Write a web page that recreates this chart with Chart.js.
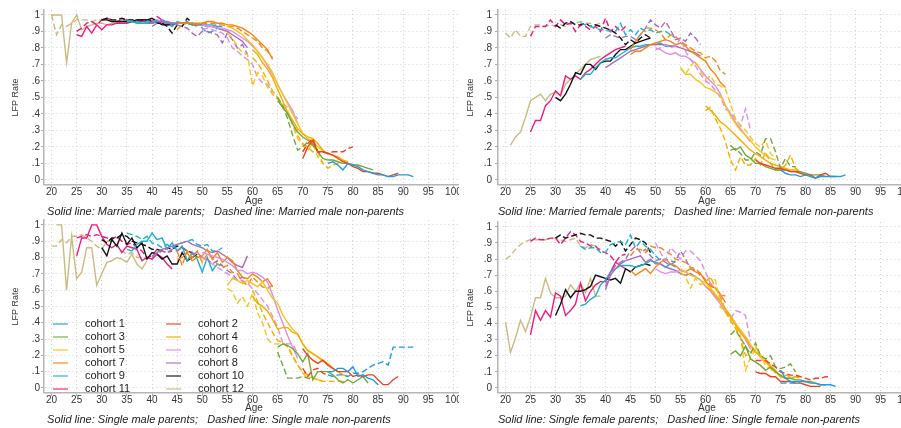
<!DOCTYPE html>
<html>
<head>
<meta charset="utf-8">
<script src="https://cdn.jsdelivr.net/npm/chart.js@4.4.1/dist/chart.umd.min.js"></script>
<style>
  html, body { margin: 0; padding: 0; background: #fff; width: 901px; height: 428px; overflow: hidden; }
  .panel { position: absolute; overflow: hidden; }
  .panel canvas { position: absolute; left: 0; top: 0; }
</style>
</head>
<body>
<div class="panel" style="left:0;top:0;width:459px;height:219px"><canvas id="mm" width="464" height="219"></canvas></div>
<div class="panel" style="left:452px;top:0;width:449px;height:219px"><canvas id="mf" width="464" height="219"></canvas></div>
<div class="panel" style="left:0;top:213px;width:459px;height:215px"><canvas id="sm" width="464" height="214"></canvas></div>
<div class="panel" style="left:452px;top:213px;width:449px;height:215px"><canvas id="sf" width="464" height="214"></canvas></div>
<script>
// LFP rate by age, 12 birth cohorts; solid = parents, dashed = non-parents.

const COHORTS = ['cohort 1', 'cohort 2', 'cohort 3', 'cohort 4', 'cohort 5', 'cohort 6',
                 'cohort 7', 'cohort 8', 'cohort 9', 'cohort 10', 'cohort 11', 'cohort 12'];
const COLORS = ['#1f9be0', '#f0401e', '#72a83a', '#f4ad00', '#f7c51a', '#df8de8',
                '#f8860e', '#a66dba', '#19b3cf', '#111111', '#f2167e', '#c9bb80'];
// first age observed for each cohort
const AGE_START = [75, 70, 65, 60, 55, 50, 45, 40, 35, 30, 25, 20];

const X_TICKS = [20, 25, 30, 35, 40, 45, 50, 55, 60, 65, 70, 75, 80, 85, 90, 95, 100];
const Y_TICKS = [0, 0.1, 0.2, 0.3, 0.4, 0.5, 0.6, 0.7, 0.8, 0.9, 1];

// Married male
const mmParents = [
  [0.10,0.11,0.09,0.06,0.10,0.09,0.08,0.06,0.05,0.04,0.03,0.03,0.02,0.02,0.03,0.03,0.03,0.02],
  [0.13,0.20,0.24,0.17,0.17,0.16,0.15,0.13,0.11,0.10,0.08,0.07,0.05,0.05,0.04,0.04,0.03,0.02,0.03,0.04],
  [0.48,0.44,0.40,0.34,0.29,0.26,0.24,0.22,0.17,0.13,0.12,0.12,0.11,0.10,0.10,0.09,0.09,0.08,0.07,0.06],
  [0.79,0.76,0.71,0.67,0.62,0.55,0.48,0.41,0.36,0.31,0.28,0.26,0.25,0.22,0.18,0.16,0.15,0.14,0.12,0.11],
  [0.93,0.92,0.90,0.88,0.85,0.82,0.78,0.74,0.70,0.65,0.58,0.52,0.46,0.40,0.34,0.28,0.25,0.23,0.20,0.18],
  [0.94,0.93,0.93,0.92,0.92,0.91,0.90,0.88,0.86,0.84,0.81,0.78,0.74,0.69,0.64,0.58,0.52,0.47,0.42,0.34],
  [0.95,0.95,0.95,0.95,0.95,0.95,0.96,0.96,0.95,0.95,0.94,0.94,0.93,0.92,0.90,0.88,0.85,0.82,0.79,0.73],
  [0.96,0.96,0.96,0.96,0.95,0.95,0.95,0.95,0.95,0.94,0.94,0.93,0.93,0.92,0.91,0.90,0.88,0.86,0.84,0.80],
  [0.96,0.96,0.95,0.95,0.95,0.95,0.96,0.96,0.95,0.95,0.95,0.95,0.95,0.94,0.94,0.94,0.94,0.94,0.93,0.93],
  [0.97,0.97,0.96,0.96,0.96,0.96,0.96,0.97,0.97,0.97,0.98,0.96,0.94,0.94,0.94,0.95,0.95,0.95,0.94,0.94],
  [0.88,0.87,0.93,0.89,0.94,0.91,0.94,0.94,0.95,0.95,0.95,0.96,0.96,0.96,0.96,0.95,0.96,0.95,0.94,0.95],
  [1.00,1.00,1.00,0.71,0.95,1.00,0.91,0.93,0.94,0.95,0.95,0.94,0.95,0.95,0.96,0.96,0.96,0.97,0.96,0.97]
];
const mmNonParents = [
  [],
  [0.17,0.22,0.25,0.17,0.17,0.16,0.17,0.17,0.17,0.19,0.20],
  [0.50,0.45,0.37,0.27,0.18,0.20,0.23,0.21,0.17,0.15],
  [0.74,0.71,0.66,0.60,0.54,0.50,0.45,0.40,0.34,0.27,0.22,0.20,0.17,0.17,0.10,0.07,0.09,0.10,0.12,0.09],
  [0.89,0.86,0.81,0.77,0.76,0.57,0.65,0.63,0.56,0.52,0.50,0.45,0.42,0.33,0.25,0.21,0.18,0.22,0.14,0.10],
  [0.91,0.92,0.91,0.90,0.89,0.86,0.80,0.78,0.75,0.73,0.70,0.62,0.59,0.58,0.52,0.49,0.46,0.44,0.41,0.37],
  [0.91,0.94,0.95,0.94,0.94,0.95,0.95,0.95,0.94,0.94,0.93,0.93,0.92,0.90,0.88,0.86,0.84,0.80,0.78,0.74],
  [0.93,0.95,0.97,0.96,0.94,0.94,0.93,0.92,0.89,0.87,0.90,0.90,0.89,0.88,0.83,0.89,0.85,0.80,0.82,0.76],
  [0.97,0.96,0.96,0.95,0.96,0.96,0.97,0.96,0.95,0.93,0.96,0.95,0.96,0.94,0.94,0.92,0.89,0.90,0.92,0.91],
  [0.97,0.98,0.97,0.97,0.98,0.97,0.97,0.97,0.97,0.96,0.97,0.95,0.95,0.93,0.89,0.94,0.93,0.98,0.95,0.93],
  [0.90,0.92,0.95,0.96,0.94,0.97,0.98,0.97,0.96,0.97,0.97,0.96,0.96,0.97,0.97,0.96,0.99,0.97,0.95,0.94],
  [1.00,0.88,0.94,0.93,0.95,0.97,0.97,0.97,0.96,0.97,0.97,0.97,0.96,0.96,0.97,0.97,0.97,0.97,0.96,0.97]
];

// Married female
const mfParents = [
  [0.06,0.04,0.03,0.03,0.02,0.03,0.02,0.01,0.02,0.02,0.02,0.02,0.02,0.03],
  [0.12,0.10,0.09,0.08,0.07,0.07,0.06,0.05,0.05,0.04,0.03,0.03,0.01,0.03,0.04,0.02,0.02],
  [0.21,0.18,0.20,0.15,0.13,0.10,0.10,0.08,0.07,0.06,0.06,0.06,0.05,0.05,0.05,0.04,0.03,0.03,0.03,0.02],
  [0.45,0.42,0.39,0.35,0.33,0.30,0.27,0.24,0.21,0.18,0.16,0.14,0.12,0.10,0.09,0.08,0.07,0.06,0.06,0.05],
  [0.68,0.64,0.64,0.61,0.59,0.56,0.55,0.53,0.51,0.45,0.39,0.34,0.30,0.27,0.24,0.20,0.17,0.15,0.13,0.12],
  [0.80,0.79,0.77,0.76,0.77,0.75,0.75,0.73,0.71,0.67,0.63,0.60,0.57,0.52,0.45,0.40,0.35,0.31,0.27,0.23],
  [0.76,0.78,0.78,0.80,0.82,0.83,0.84,0.85,0.84,0.82,0.83,0.81,0.78,0.76,0.74,0.72,0.67,0.64,0.59,0.56],
  [0.68,0.70,0.72,0.74,0.76,0.78,0.79,0.80,0.81,0.82,0.82,0.82,0.82,0.81,0.81,0.80,0.79,0.78,0.77,0.75],
  [0.61,0.64,0.64,0.68,0.71,0.73,0.74,0.74,0.76,0.78,0.80,0.81,0.81,0.82,0.82,0.82,0.83,0.81,0.81,0.81],
  [0.50,0.48,0.52,0.58,0.65,0.64,0.70,0.70,0.67,0.71,0.72,0.72,0.76,0.79,0.79,0.81,0.83,0.84,0.85,0.86],
  [0.29,0.36,0.36,0.45,0.48,0.54,0.51,0.63,0.61,0.63,0.61,0.65,0.67,0.70,0.73,0.75,0.77,0.79,0.80,0.81],
  [null,0.21,0.26,0.29,0.38,0.48,0.50,0.52,0.48,0.52,0.53,0.51,0.58,0.61,0.64,0.67,0.70,0.73,0.74,0.75]
];
const mfNonParents = [
  [],
  [],
  [0.18,0.19,0.16,0.12,0.12,0.17,0.15,0.25,0.25,0.17,0.07,0.13,0.08,0.08],
  [0.42,0.44,0.37,0.31,0.23,0.12,0.06,0.14,0.09,0.09,0.13,0.09,0.17,0.10,0.06,0.06,0.09,0.15,0.07,0.05],
  [0.68,0.64,0.69,0.72,0.66,0.61,0.63,0.58,0.57,0.55,0.46,0.37,0.33,0.30,0.26,0.22,0.20,0.24,0.16,0.13],
  [0.79,0.80,0.82,0.80,0.81,0.86,0.78,0.73,0.69,0.64,0.60,0.58,0.54,0.50,0.43,0.41,0.37,0.33,0.43,0.30],
  [0.79,0.84,0.88,0.92,0.92,0.91,0.89,0.85,0.88,0.87,0.84,0.82,0.80,0.78,0.77,0.74,0.75,0.72,0.66,0.64],
  [0.86,0.88,0.87,0.86,0.87,0.87,0.85,0.88,0.92,0.97,0.94,0.92,0.96,0.91,0.85,0.86,0.84,0.89,0.86,0.82],
  [0.95,0.94,0.93,0.92,0.91,0.91,0.90,0.90,0.95,0.88,0.91,0.88,0.92,0.90,0.91,0.89,0.90,0.90,0.88,0.86],
  [0.94,0.92,0.95,0.96,0.94,0.94,0.95,0.93,0.94,0.93,0.92,0.91,0.89,0.86,0.82,0.85,0.83,0.86,0.88,0.86],
  [0.87,0.93,0.93,0.93,0.97,0.93,0.97,0.94,0.95,0.90,0.94,0.93,0.91,0.93,0.90,0.98,0.90,0.93,0.90,0.93],
  [0.89,0.86,0.91,0.87,0.87,0.93,0.94,0.94,0.93,0.94,0.93,0.94,0.93,0.95,0.95,0.96,0.95,0.95,0.94,0.95]
];

// Single male
const smParents = [
  [0.10,0.10,0.12,0.12,0.10,0.13,0.07,0.08,0.06,0.05,0.02],
  [0.24,0.20,0.17,0.15,0.17,0.14,0.12,0.10,0.10,0.10,0.07,0.08,0.07,0.08,0.08,0.05,0.02,0.02,0.05,0.07],
  [0.25,0.27,0.26,0.24,0.21,0.16,0.21,0.05,0.10,0.10,0.10,0.08,0.05,0.03,0.05,0.03,0.05,0.07,0.03],
  [0.56,0.52,0.50,0.47,0.42,0.36,0.37,0.37,0.34,0.33,0.27,0.23,0.21,0.19,0.17,0.15,0.12,0.10,0.08,0.07],
  [0.63,0.67,0.66,0.64,0.66,0.64,0.62,0.65,0.60,0.55,0.52,0.45,0.40,0.36,0.33,0.27,0.23,0.21,0.19,0.16],
  [0.83,0.82,0.81,0.80,0.79,0.77,0.75,0.72,0.72,0.70,0.71,0.70,0.68,0.65,0.57,0.48,0.40,0.32,0.25,0.18],
  [0.79,0.80,0.83,0.78,0.80,0.81,0.85,0.79,0.83,0.77,0.80,0.78,0.72,0.68,0.67,0.70,0.68,0.65,0.67,0.62],
  [0.81,0.83,0.85,0.86,0.87,0.88,0.89,0.90,0.88,0.87,0.86,0.84,0.83,0.84,0.82,0.80,0.77,0.75,0.74,0.81],
  [0.85,0.84,0.88,0.90,0.90,0.95,0.91,0.92,0.85,0.89,0.84,0.87,0.78,0.83,0.79,0.71,0.80,0.72,0.76,0.75],
  [0.86,0.81,0.91,0.87,0.95,0.88,0.92,0.86,0.89,0.79,0.83,0.82,0.79,0.81,0.76,0.76,0.83,0.78,0.80,0.82],
  [0.81,0.92,0.92,1.00,1.00,0.93,0.88,0.86,0.88,0.83,0.87,0.86,0.85,0.78,0.80,0.79,0.82,0.80,0.76,0.73],
  [null,1.00,1.00,0.60,0.93,0.67,0.71,0.86,0.86,0.63,0.70,0.77,0.78,0.80,0.79,0.77,0.82,0.76,0.73,0.78]
];
const smNonParents = [
  [0.08,0.07,0.08,0.08,0.07,0.09,0.09,0.10,0.12,0.14,0.15,0.16,0.14,0.25,0.25,0.25,0.25,0.25],
  [0.12,0.07,0.11,0.12,0.09,0.08],
  [0.22,0.14,0.06,0.06,0.06,0.07,0.06,0.05],
  [0.60,0.53,0.46,0.40,0.34,0.29,0.28,0.25,0.19,0.14,0.10,0.08,0.06,0.05,0.04,0.04,0.04,0.04,0.04,0.05],
  [0.61,0.59,0.52,0.56,0.50,0.58,0.46,0.40,0.30,0.27,0.27,0.27,0.26,0.20,0.14,0.09,0.06,0.07,0.05,0.04],
  [0.80,0.78,0.76,0.74,0.72,0.70,0.68,0.66,0.66,0.64,0.61,0.58,0.54,0.50,0.44,0.37,0.28,0.27,0.27,0.21],
  [0.84,0.75,0.84,0.80,0.84,0.77,0.82,0.80,0.76,0.74,0.75,0.71,0.70,0.65,0.63,0.68,0.65,0.62,0.61,0.63],
  [0.80,0.82,0.84,0.83,0.85,0.84,0.86,0.84,0.82,0.83,0.80,0.79,0.76,0.78,0.75,0.72,0.70,0.66,0.68,0.66],
  [0.95,0.94,0.93,0.91,0.93,0.89,0.88,0.86,0.88,0.86,0.88,0.89,0.90,0.91,0.88,0.87,0.88,0.84,0.84,0.86],
  [0.91,0.89,0.92,0.92,0.94,0.93,0.90,0.89,0.88,0.87,0.85,0.85,0.84,0.86,0.85,0.87,0.86,0.84,0.83,0.80],
  [0.92,0.93,0.94,0.93,0.94,0.93,0.92,0.91,0.93,0.90,0.88,0.89,0.86,0.84,0.80,0.81,0.85,0.84,0.83,0.84],
  [0.87,0.87,0.91,0.89,0.93,0.93,0.94,0.92,0.90,0.87,0.85,0.90,0.90,0.87,0.84,0.82,0.83,0.80,0.80,0.79]
];

// Single female
const sfParents = [
  [0.11,0.06,0.04,0.04,0.04,0.04,0.03,0.03,0.02,0.02,0.02,0.01],
  [0.10,0.09,0.09,0.07,0.07,0.04,0.04,0.04,0.03,0.03,0.02,0.01,0.01,0.01],
  [0.21,0.23,0.20,0.26,0.18,0.16,0.14,0.11,0.13,0.10,0.08,0.06,0.06,0.05,0.05,0.04,0.04,0.03,0.02,0.02],
  [0.63,0.61,0.57,0.54,0.49,0.44,0.39,0.34,0.31,0.26,0.22,0.20,0.18,0.14,0.11,0.07,0.06,0.06,0.07,0.07],
  [0.74,0.72,0.70,0.69,0.67,0.65,0.62,0.58,0.54,0.49,0.45,0.40,0.36,0.32,0.27,0.23,0.19,0.16,0.13,0.10],
  [0.74,0.72,0.71,0.72,0.72,0.73,0.72,0.70,0.69,0.67,0.63,0.60,0.56,0.52,0.47,0.45,0.40,0.35,0.30,0.24],
  [0.73,0.70,0.72,0.74,0.71,0.75,0.78,0.80,0.77,0.76,0.73,0.72,0.74,0.72,0.71,0.66,0.63,0.62,0.58,0.53],
  [0.61,0.70,0.74,0.77,0.79,0.80,0.81,0.82,0.78,0.80,0.77,0.77,0.75,0.74,0.73,0.71,0.70,0.71,0.69,0.67],
  [0.51,0.52,0.55,0.57,0.64,0.67,0.72,0.74,0.76,0.76,0.76,0.75,0.76,0.77,0.79,0.78,0.77,0.75,0.77,0.75],
  [0.45,0.52,0.61,0.56,0.60,0.60,0.61,0.63,0.70,0.69,0.68,0.67,0.68,0.65,0.74,0.72,0.75,0.76,0.77,0.76],
  [0.33,0.48,0.42,0.48,0.44,0.59,0.57,0.45,0.48,0.52,0.65,0.54,0.60,0.64,0.66,0.66,0.72,0.78,0.76,0.74],
  [0.41,0.22,0.31,0.42,0.35,0.44,0.56,0.56,0.68,0.59,0.56,0.56,0.57,0.64,0.60,0.65,0.59,0.68,0.57,0.57]
];
const sfNonParents = [
  [0.03,0.03,0.03,0.03,0.03],
  [0.17,0.17,0.17,0.15,0.13,0.10,0.09,0.08,0.08,0.07,0.06,0.05,0.06,0.06,0.07,0.07],
  [0.33,0.36,0.31,0.26,0.21,0.28,0.20,0.18,0.20,0.13,0.12,0.13,0.15,0.10],
  [0.66,0.69,0.62,0.56,0.47,0.42,0.37,0.31,0.20,0.22,0.26,0.20,0.18,0.12,0.10,0.07,0.08,0.07,0.07,0.06],
  [0.72,0.69,0.62,0.68,0.64,0.66,0.68,0.67,0.50,0.48,0.42,0.38,0.32,0.11,0.19,0.24,0.20,0.14,0.12,0.09],
  [0.90,0.84,0.79,0.87,0.84,0.80,0.85,0.85,0.82,0.79,0.72,0.65,0.62,0.57,0.48,0.43,0.48,0.47,0.45,0.29],
  [0.82,0.86,0.86,0.84,0.88,0.87,0.87,0.85,0.83,0.80,0.79,0.78,0.75,0.74,0.71,0.67,0.64,0.62,0.58,0.57],
  [0.63,0.72,0.76,0.78,0.80,0.85,0.88,0.84,0.86,0.82,0.79,0.80,0.78,0.76,0.79,0.85,0.80,0.74,0.73,0.70],
  [0.88,0.86,0.87,0.87,0.84,0.84,0.89,0.90,0.91,0.89,0.95,0.87,0.91,0.88,0.86,0.82,0.79,0.80,0.79,0.78],
  [0.93,0.95,0.93,0.94,0.95,0.96,0.95,0.95,0.93,0.93,0.92,0.91,0.88,0.91,0.85,0.89,0.93,0.92,0.90,0.84],
  [0.91,0.93,0.92,0.92,0.93,0.93,0.89,0.93,0.97,0.95,0.91,0.90,0.88,0.88,0.85,0.84,0.82,0.78,0.82,0.83],
  [0.80,0.82,0.86,0.89,0.91,0.92,0.92,0.92,0.92,0.93,0.93,0.92,0.91,0.92,0.93,0.88,0.87,0.89,0.88,0.86]
];

const FONT = '"Liberation Sans", Arial, sans-serif';

function toPoints(values, start) {
  return values.map((v, i) => ({ x: start + i, y: v }));
}

function buildDatasets(parents, nonParents) {
  const sets = [];
  COHORTS.forEach((name, c) => {
    sets.push({
      label: name, data: toPoints(parents[c], AGE_START[c]),
      borderColor: COLORS[c], borderWidth: 1.4
    });
    sets.push({
      label: name + ' non-parents', data: toPoints(nonParents[c], AGE_START[c]),
      borderColor: COLORS[c], borderWidth: 1.4, borderDash: [6, 3]
    });
  });
  return sets;
}

// two-column cohort key drawn inside the plot area
const cohortKey = {
  id: 'cohortKey',
  afterDatasetsDraw(chart) {
    const { ctx, chartArea } = chart;
    ctx.save();
    ctx.font = '11px ' + FONT;
    ctx.textBaseline = 'middle';
    COHORTS.forEach((name, i) => {
      const x = chartArea.left + 9 + (i % 2) * 113;
      const y = chartArea.top + 104 + Math.floor(i / 2) * 13;
      ctx.globalAlpha = 0.7;
      ctx.strokeStyle = COLORS[i];
      ctx.lineWidth = 1.6;
      ctx.beginPath();
      ctx.moveTo(x, y);
      ctx.lineTo(x + 15, y);
      ctx.stroke();
      ctx.globalAlpha = 1;
      ctx.fillStyle = '#222';
      ctx.fillText(name, x + 32, y);
    });
    ctx.restore();
  }
};

function makePanel(id, parents, nonParents, caption, cfg) {
  const plugins = cfg.key ? [cohortKey] : [];
  return new Chart(document.getElementById(id), {
    type: 'line',
    data: { datasets: buildDatasets(parents, nonParents) },
    plugins,
    options: {
      responsive: false,
      animation: false,
      events: [],
      layout: { autoPadding: false, padding: { top: cfg.top, left: 0, right: 0, bottom: 0 } },
      elements: { point: { radius: 0 }, line: { tension: 0, fill: false } },
      plugins: {
        legend: { display: false },
        tooltip: { enabled: false },
        title: {
          display: true, text: caption, position: 'bottom', align: 'start', fullSize: false,
          color: '#222', padding: 0,
          font: { family: FONT, size: 11, style: 'italic', weight: 'normal', lineHeight: 1.2 }
        }
      },
      scales: {
        x: {
          type: 'linear', min: 18.5, max: 102.1,
          afterBuildTicks: s => { s.ticks = X_TICKS.map(v => ({ value: v })); },
          afterFit: s => { s.height = 21; },
          ticks: { autoSkip: false, maxRotation: 0, padding: -2, color: '#333', font: { family: FONT, size: 10 } },
          grid: { color: '#cfcfcf', lineWidth: 1, tickLength: 3, tickColor: '#aaa', tickBorderDash: [] },
          border: { display: true, color: '#b5b5b5', width: 1.5, dash: [1, 3] },
          title: { display: true, text: 'Age', color: '#333', padding: { top: 0, bottom: cfg.agePad },
                   font: { family: FONT, size: 10, lineHeight: 1 } }
        },
        y: {
          type: 'linear', min: -0.03, max: 1.03,
          afterBuildTicks: s => { s.ticks = Y_TICKS.map(v => ({ value: v })); },
          afterFit: s => { s.width = cfg.yWidth; },
          ticks: {
            padding: cfg.yPad, color: '#333', font: { family: FONT, size: 10 },
            callback: v => v === 0 ? '0' : v === 1 ? '1' : '.' + Math.round(v * 10)
          },
          grid: { color: '#cfcfcf', lineWidth: 1, tickLength: 3, tickColor: '#aaa', tickBorderDash: [] },
          border: { display: true, color: '#b5b5b5', width: 1.5, dash: [1, 3] },
          title: { display: true, text: 'LFP Rate', color: '#333', padding: { top: cfg.titlePad, bottom: 0 },
                   font: { family: FONT, size: 9, lineHeight: 1.2 } }
        }
      }
    }
  });
}

const leftCfg = { top: 10, yWidth: 44, yPad: 1, titlePad: 10, agePad: 0 };
const rightCfg = { top: 10, yWidth: 46, yPad: 3, titlePad: 13, agePad: 0 };

makePanel('mm', mmParents, mmNonParents,
  ' Solid line: Married male parents;   Dashed line: Married male non-parents', leftCfg);
makePanel('mf', mfParents, mfNonParents,
  'Solid line: Married female parents;   Dashed line: Married female non-parents', rightCfg);
makePanel('sm', smParents, smNonParents,
  ' Solid line: Single male parents;   Dashed line: Single male non-parents',
  Object.assign({}, leftCfg, { top: 5, agePad: 1, key: true }));
makePanel('sf', sfParents, sfNonParents,
  'Solid line: Single female parents;   Dashed line: Single female non-parents',
  Object.assign({}, rightCfg, { top: 5, agePad: 1 }));
</script>
</body>
</html>
